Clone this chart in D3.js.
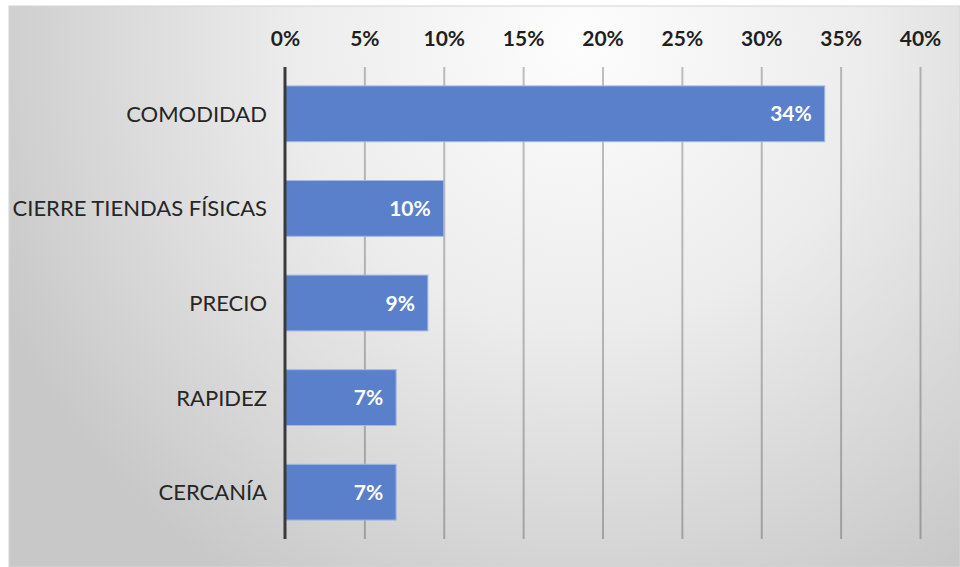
<!DOCTYPE html>
<html>
<head>
<meta charset="utf-8">
<script src="https://cdn.jsdelivr.net/npm/d3@7"></script>
<style>
  body { margin: 0; background: #fff; }
  svg { display: block; }
</style>
</head>
<body>
<div id="chart"></div>
<script>
// data
var categories = ['COMODIDAD', 'CIERRE TIENDAS FÍSICAS', 'PRECIO', 'RAPIDEZ', 'CERCANÍA'];
var values = [0.34, 0.10, 0.09, 0.07, 0.07];
var valueLabels = ['34%', '10%', '9%', '7%', '7%'];
var tickValues = [0, 0.05, 0.10, 0.15, 0.20, 0.25, 0.30, 0.35, 0.40];

var svgWidth = 960;
var svgHeight = 567;

var svg = d3.select('#chart')
    .append('svg')
    .attr('width', svgWidth)
    .attr('height', svgHeight);

// background gradient like the office chart area
var defs = svg.append('defs');
var grad = defs.append('radialGradient')
    .attr('id', 'bg')
    .attr('gradientUnits', 'userSpaceOnUse')
    .attr('cx', 580).attr('cy', 40)
    .attr('r', 640);
grad.append('stop').attr('offset', '0%').attr('stop-color', '#fdfdfd');
grad.append('stop').attr('offset', '45%').attr('stop-color', '#ececec');
grad.append('stop').attr('offset', '100%').attr('stop-color', '#c8c8c8');

svg.append('rect')
    .attr('x', 9).attr('y', 6)
    .attr('width', 951).attr('height', 561)
    .attr('fill', 'url(#bg)')
    .attr('stroke', '#d4d4d4')
    .attr('stroke-width', 1);

// scales
var x = d3.scaleLinear()
    .domain([0, 0.40])
    .range([285, 920]);

var y = d3.scaleBand()
    .domain(categories)
    .range([67, 539])
    .paddingInner(0.41)
    .paddingOuter(0.2);

var font = 'Lato, "Open Sans", sans-serif';

// top axis with labels only
var topAxis = d3.axisTop(x)
    .tickValues(tickValues)
    .tickFormat(d3.format('.0%'))
    .tickSize(0)
    .tickPadding(0);

var axisG = svg.append('g')
    .attr('transform', 'translate(0, 46)')
    .call(topAxis);
axisG.select('.domain').remove();
axisG.selectAll('text')
    .attr('font-family', font)
    .attr('font-size', '21px')
    .attr('font-weight', 'bold')
    .attr('fill', '#1f1f1f');

// gridlines
var gridAxis = d3.axisTop(x)
    .tickValues(tickValues.slice(1))
    .tickSize(-(539 - 67))
    .tickFormat('');
var gridG = svg.append('g')
    .attr('transform', 'translate(0, 67)')
    .call(gridAxis);
gridG.select('.domain').remove();
gridG.selectAll('line')
    .attr('stroke', '#000')
    .attr('stroke-opacity', 0.24)
    .attr('stroke-width', 2);

// bars
svg.selectAll('.bar')
    .data(values)
    .enter()
    .append('rect')
    .attr('class', 'bar')
    .attr('x', x(0))
    .attr('y', (d, i) => y(categories[i]))
    .attr('width', d => x(d) - x(0))
    .attr('height', y.bandwidth())
    .attr('fill', '#5b80cb')
    .attr('stroke', '#a3b8e3')
    .attr('stroke-width', 1);

// zero axis line
svg.append('line')
    .attr('x1', x(0)).attr('x2', x(0))
    .attr('y1', 67).attr('y2', 539)
    .attr('stroke', '#3a3a3a')
    .attr('stroke-width', 3);

// value labels
svg.selectAll('.val')
    .data(values)
    .enter()
    .append('text')
    .attr('class', 'val')
    .attr('x', d => x(d) - 13)
    .attr('y', (d, i) => y(categories[i]) + y.bandwidth() / 2)
    .attr('dy', '0.36em')
    .attr('text-anchor', 'end')
    .attr('font-family', font)
    .attr('font-size', '21px')
    .attr('font-weight', 'bold')
    .attr('fill', '#ffffff')
    .text((d, i) => valueLabels[i]);

// category labels
svg.selectAll('.cat')
    .data(categories)
    .enter()
    .append('text')
    .attr('class', 'cat')
    .attr('x', 267)
    .attr('y', d => y(d) + y.bandwidth() / 2)
    .attr('dy', '0.36em')
    .attr('text-anchor', 'end')
    .attr('font-family', font)
    .attr('font-size', '22px')
    .attr('fill', '#262626')
    .text(d => d);
</script>
</body>
</html>
